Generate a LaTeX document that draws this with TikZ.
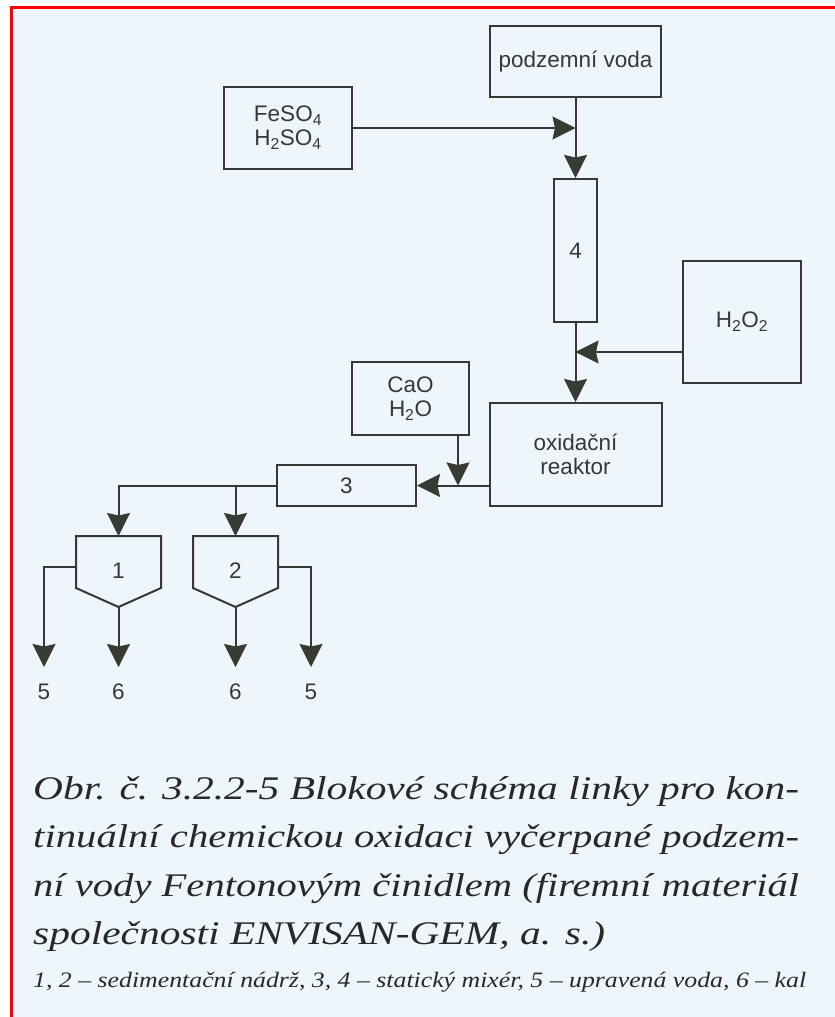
\documentclass[tikz,border=0pt]{standalone}
\usepackage{fontspec}
\setmainfont{Liberation Serif}
\newfontfamily\diagfont{Liberation Sans}
\usetikzlibrary{arrows.meta}
\definecolor{bg}{RGB}{238,246,251}
\definecolor{ink}{RGB}{55,55,55}
\definecolor{capink}{RGB}{40,40,40}
\definecolor{tipc}{RGB}{55,59,52}
\definecolor{frame}{RGB}{255,0,0}
\newsavebox\capbox
\newcommand\fitline[2]{\sbox\capbox{#2}\pgfmathsetmacro\fitfac{#1/\the\wd\capbox}\global\let\lastfac\fitfac\scalebox{\fitfac}[1]{\usebox\capbox}}
\newcommand\usefac[2]{\scalebox{#1}[1]{#2}}
\tikzset{
  blk/.style={draw=ink, line width=2pt, rectangle, inner sep=0pt, font=\diagfont\fontsize{22.5}{25}\selectfont, text=ink, align=center},
  lbl/.style={font=\diagfont\fontsize{22.5}{25}\selectfont, text=ink, inner sep=0pt},
  conn/.style={draw=ink, line width=2pt},
  arr/.style={conn, -{Stealth[length=23pt,width=23pt,inset=2.5pt,color=tipc]}},
  capl/.style={anchor=base west, inner sep=0pt, text=capink, font=\fontsize{33}{36}\selectfont\itshape},
  smalll/.style={anchor=base west, inner sep=0pt, text=capink, font=\fontsize{22}{25}\selectfont\itshape}
}
\begin{document}
\begin{tikzpicture}[x=1pt,y=-1pt]
\useasboundingbox (0,0) rectangle (835,1017);
\fill[white] (0,0) rectangle (835,1017);
\fill[bg] (11,7) rectangle (835,1017);
\draw[frame, line width=2.5pt] (11.3,1017) -- (11.3,7.5) -- (835,7.5);

% boxes
\node[blk, minimum width=171pt, minimum height=71pt] (pv) at (575.5,61.5) {podzemní voda};
\node[blk, minimum width=128pt, minimum height=82pt] (fe) at (288,128) {FeSO\textsubscript{4}\\[-1pt]H\textsubscript{2}SO\textsubscript{4}};
\node[blk, minimum width=43pt, minimum height=143pt] (m4) at (575.5,250.5) {4};
\node[blk, minimum width=118pt, minimum height=122pt] (hp) at (742,322) {H\textsubscript{2}O\textsubscript{2}};
\node[blk, minimum width=172pt, minimum height=103pt] (re) at (575.5,454.5) {oxidační\\[-1pt]reaktor};
\node[blk, minimum width=117pt, minimum height=73pt] (cao) at (410.5,398.5) {CaO\\[-1pt]H\textsubscript{2}O};
\node[blk, minimum width=139pt, minimum height=41pt] (m3) at (346.5,485.5) {3};

% sedimentation tanks
\draw[conn, line join=miter] (76,536) -- (161,536) -- (161,588) -- (118.5,607) -- (76,588) -- cycle;
\draw[conn, line join=miter] (193,536) -- (278,536) -- (278,588) -- (235.5,607) -- (193,588) -- cycle;
\node[lbl] (t1) at (118.5,571) {1};
\node[lbl] (t2) at (235.5,571) {2};
\coordinate (t1top) at (118.5,536);
\coordinate (t2top) at (235.5,536);
\coordinate (t1b) at (118.5,607);
\coordinate (t2b) at (235.5,607);
\coordinate (t1l) at (76,567);
\coordinate (t2r) at (278,567);

% junctions
\coordinate (j1) at (575.5,128);
\coordinate (j2) at (575.5,352);
\coordinate (j3) at (458,485.5);

% connectors
\draw[arr] (pv.south) -- (m4.north);
\draw[arr] (fe.east) -- (j1);
\draw[arr] (m4.south) -- (re.north);
\draw[arr] (j2 -| hp.west) -- (j2);
\draw[arr] (re.west |- m3.east) -- (m3.east);
\draw[arr] (j3 |- cao.south) -- (j3);
\draw[arr] (m3.west) -| (t1top);
\draw[arr] (m3.west -| t2top) -- (t2top);

% outlets
\node[lbl] (o5a) at (44,692) {5};
\node[lbl] (o6a) at (118.5,692) {6};
\node[lbl] (o6b) at (235.5,692) {6};
\node[lbl] (o5b) at (311,692) {5};
\coordinate (e5a) at (44,667);
\coordinate (e6a) at (118.5,667);
\coordinate (e6b) at (235.5,667);
\coordinate (e5b) at (311,667);
\draw[arr] (t1l) -| (e5a);
\draw[arr] (t1b) -- (e6a);
\draw[arr] (t2b) -- (e6b);
\draw[arr] (t2r) -| (e5b);

% caption
\node[capl] (c1) at (33,799) {\fitline{766}{Obr. č. 3.2.2-5 Blokové schéma linky pro kon-}};
\node[capl] (c4) at (33,944.5) {\usefac{\lastfac}{společnosti ENVISAN-GEM, a. s.)}};
\node[capl] (c2) at (33,847.5) {\fitline{766}{tinuální chemickou oxidaci vyčerpané podzem-}};
\node[capl] (c3) at (33,896) {\fitline{766}{ní vody Fentonovým činidlem (firemní materiál}};
\node[smalll] (c5) at (33,987) {\fitline{773}{1, 2 – sedimentační nádrž, 3, 4 – statický mixér, 5 – upravená voda, 6 – kal}};
\end{tikzpicture}
\end{document}
